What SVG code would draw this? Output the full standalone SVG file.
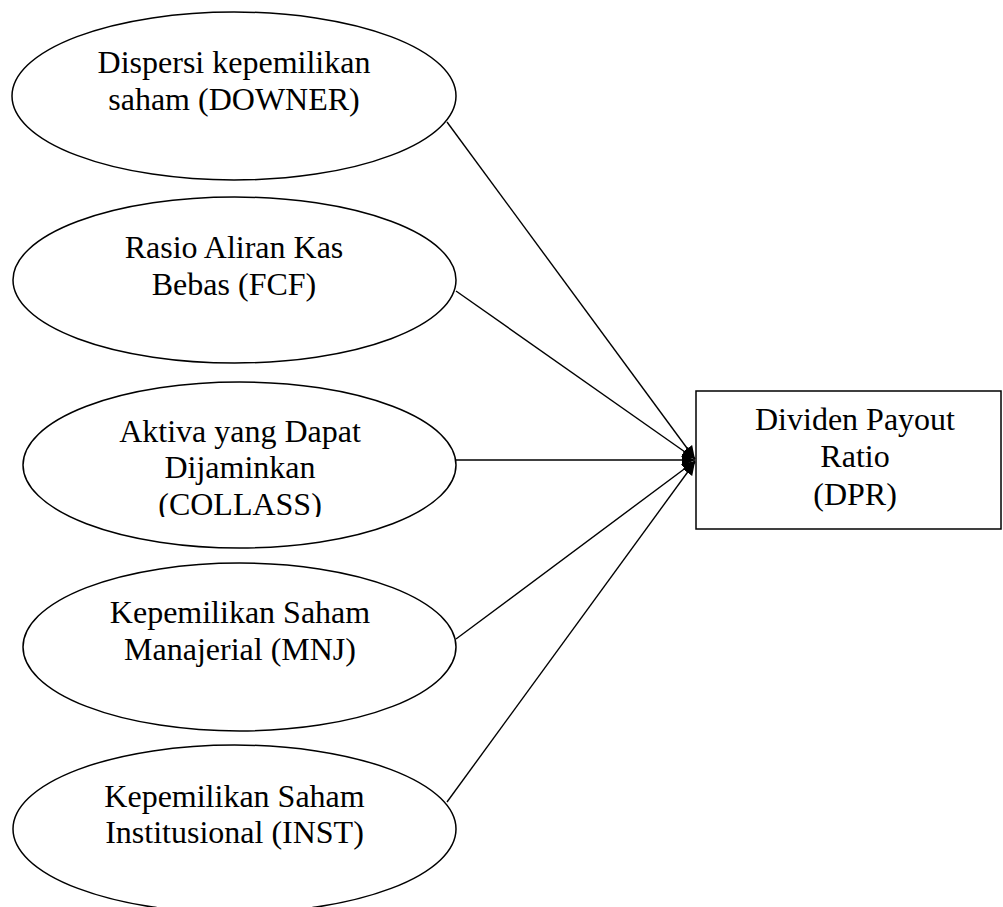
<svg xmlns="http://www.w3.org/2000/svg" width="1003" height="907" viewBox="0 0 1003 907">
<style>
.shape{fill:#fff;stroke:#000;stroke-width:1.5}
.lbl{font-family:"Liberation Serif","Times New Roman",serif;font-size:32px;fill:#000;text-anchor:middle}
.edge{stroke:#000;stroke-width:1.4;fill:none;marker-end:url(#arr)}
</style>
<defs>
<marker id="arr" markerUnits="userSpaceOnUse" markerWidth="14" markerHeight="12" refX="13" refY="6" orient="auto">
<path d="M0,0 L13,6 L0,12 Z" fill="#000"/>
</marker>
<clipPath id="clip3"><rect x="0" y="380" width="500" height="137"/></clipPath>
</defs>
<rect width="1003" height="907" fill="#fff"/>
<g id="connectors">
<line class="edge" x1="447" y1="122" x2="695" y2="459"/>
<line class="edge" x1="456" y1="291" x2="695" y2="459"/>
<line class="edge" x1="456" y1="460" x2="695" y2="460"/>
<line class="edge" x1="456" y1="639" x2="695" y2="461"/>
<line class="edge" x1="447" y1="802" x2="695" y2="462"/>
</g>
<g id="downer">
<ellipse class="shape" cx="234" cy="96" rx="222" ry="84"/>
<text class="lbl" x="234" y="73">Dispersi kepemilikan</text>
<text class="lbl" x="234" y="110">saham (DOWNER)</text>
</g>
<g id="fcf">
<ellipse class="shape" cx="234.5" cy="280" rx="221.5" ry="83"/>
<text class="lbl" x="234" y="258">Rasio Aliran Kas</text>
<text class="lbl" x="234" y="295">Bebas (FCF)</text>
</g>
<g id="collass">
<ellipse class="shape" cx="239.5" cy="465" rx="216.5" ry="83"/>
<g clip-path="url(#clip3)">
<text class="lbl" x="240" y="442">Aktiva yang Dapat</text>
<text class="lbl" x="240" y="478">Dijaminkan</text>
<text class="lbl" x="240" y="515">(COLLASS)</text>
</g>
</g>
<g id="mnj">
<ellipse class="shape" cx="239.5" cy="647" rx="216.5" ry="84"/>
<text class="lbl" x="240" y="623">Kepemilikan Saham</text>
<text class="lbl" x="240" y="660">Manajerial (MNJ)</text>
</g>
<g id="inst">
<ellipse class="shape" cx="234.5" cy="829" rx="221.5" ry="84"/>
<text class="lbl" x="234.5" y="807">Kepemilikan Saham</text>
<text class="lbl" x="234.5" y="843">Institusional (INST)</text>
</g>
<g id="dpr">
<rect class="shape" x="696" y="391" width="305" height="138"/>
<text class="lbl" x="855" y="430">Dividen Payout</text>
<text class="lbl" x="855" y="467">Ratio</text>
<text class="lbl" x="855" y="505">(DPR)</text>
</g>
</svg>
